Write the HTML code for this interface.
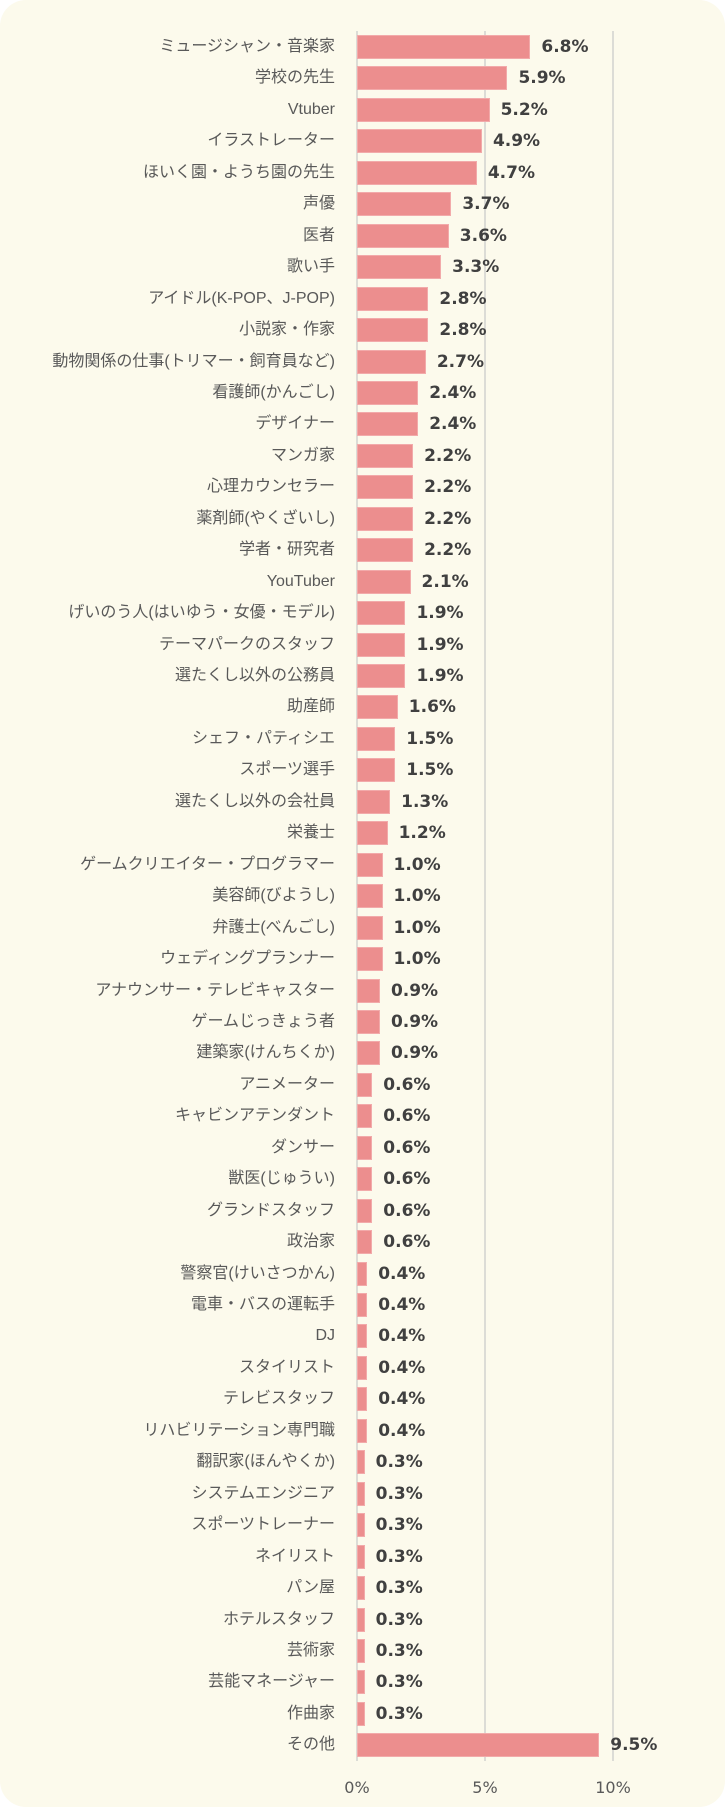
<!DOCTYPE html>
<html><head><meta charset="utf-8"><style>
html,body{margin:0;padding:0;background:#fff;}
#c{position:relative;width:725px;height:1807px;background:#fcfaec;border-radius:26px;overflow:hidden;}
.g{position:absolute;top:31px;height:1730px;width:2px;background:#dcdcd6;}
.l{position:absolute;right:390px;width:345px;text-align:right;font-family:"Liberation Sans","Noto Sans CJK JP",sans-serif;font-size:16px;color:#595959;letter-spacing:0px;white-space:nowrap;line-height:24px;}
.b{position:absolute;left:357px;height:24px;background:#ec8e8e;box-sizing:border-box;border:1px solid #f2aaaa;}
.v{position:absolute;font-family:"DejaVu Sans",sans-serif;font-weight:bold;font-size:17px;color:#404040;line-height:24px;}
.t{position:absolute;top:1778px;font-family:"DejaVu Sans",sans-serif;font-size:16px;color:#595959;width:60px;text-align:center;}
</style></head><body><div id="c">
<div class="g" style="left:356px"></div><div class="g" style="left:484px"></div><div class="g" style="left:612px"></div>
<div class="t" style="left:327px">0%</div><div class="t" style="left:455px">5%</div><div class="t" style="left:583px">10%</div>
</div>
<script>
var d=[["ミュージシャン・音楽家",6.8],["学校の先生",5.9],["Vtuber",5.2],["イラストレーター",4.9],["ほいく園・ようち園の先生",4.7],["声優",3.7],["医者",3.6],["歌い手",3.3],["アイドル(K-POP、J-POP)",2.8],["小説家・作家",2.8],["動物関係の仕事(トリマー・飼育員など)",2.7],["看護師(かんごし)",2.4],["デザイナー",2.4],["マンガ家",2.2],["心理カウンセラー",2.2],["薬剤師(やくざいし)",2.2],["学者・研究者",2.2],["YouTuber",2.1],["げいのう人(はいゆう・女優・モデル)",1.9],["テーマパークのスタッフ",1.9],["選たくし以外の公務員",1.9],["助産師",1.6],["シェフ・パティシエ",1.5],["スポーツ選手",1.5],["選たくし以外の会社員",1.3],["栄養士",1.2],["ゲームクリエイター・プログラマー",1.0],["美容師(びようし)",1.0],["弁護士(べんごし)",1.0],["ウェディングプランナー",1.0],["アナウンサー・テレビキャスター",0.9],["ゲームじっきょう者",0.9],["建築家(けんちくか)",0.9],["アニメーター",0.6],["キャビンアテンダント",0.6],["ダンサー",0.6],["獣医(じゅうい)",0.6],["グランドスタッフ",0.6],["政治家",0.6],["警察官(けいさつかん)",0.4],["電車・バスの運転手",0.4],["DJ",0.4],["スタイリスト",0.4],["テレビスタッフ",0.4],["リハビリテーション専門職",0.4],["翻訳家(ほんやくか)",0.3],["システムエンジニア",0.3],["スポーツトレーナー",0.3],["ネイリスト",0.3],["パン屋",0.3],["ホテルスタッフ",0.3],["芸術家",0.3],["芸能マネージャー",0.3],["作曲家",0.3],["その他",9.5]];
var c=document.getElementById('c'),h='';
d.forEach(function(r,i){var y=35+i*31.45,w=r[1]*25.5;
h+='<div class="l" style="top:'+y+'px">'+r[0]+'</div><div class="b" style="top:'+y+'px;width:'+w+'px"></div><div class="v" style="top:'+y+'px;left:'+(357+w+11)+'px">'+r[1].toFixed(1)+'%</div>';});
c.insertAdjacentHTML('beforeend',h);
</script></body></html>
